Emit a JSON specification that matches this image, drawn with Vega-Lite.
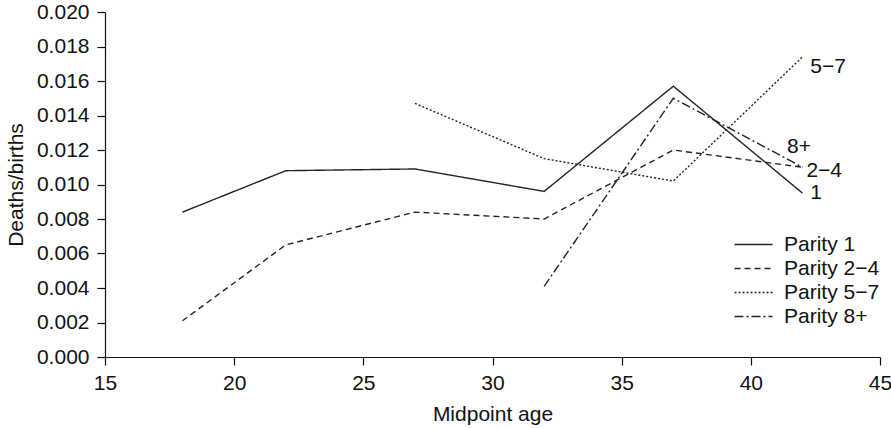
{
  "$schema": "https://vega.github.io/schema/vega-lite/v6.json",
  "width": 775,
  "height": 345,
  "autosize": {"type": "none"},
  "padding": {"left": 105, "top": 12, "right": 11, "bottom": 71},
  "background": "white",
  "config": {
    "view": {"stroke": null},
    "font": "Liberation Sans",
    "axis": {
      "grid": false,
      "domainColor": "#111",
      "domainWidth": 1.2,
      "tickColor": "#111",
      "tickWidth": 1.2,
      "tickSize": 8,
      "labelFontSize": 21,
      "labelColor": "#111",
      "labelFlush": false,
      "labelOverlap": false,
      "titleFontSize": 21,
      "titleFontWeight": "normal",
      "titleColor": "#111"
    }
  },
  "datasets": {
    "lines": [
      {"age": 18, "rate": 0.0084, "parity": "Parity 1"},
      {"age": 22, "rate": 0.0108, "parity": "Parity 1"},
      {"age": 27, "rate": 0.0109, "parity": "Parity 1"},
      {"age": 32, "rate": 0.0096, "parity": "Parity 1"},
      {"age": 37, "rate": 0.0157, "parity": "Parity 1"},
      {"age": 42, "rate": 0.0095, "parity": "Parity 1"},
      {"age": 18, "rate": 0.0021, "parity": "Parity 2−4"},
      {"age": 22, "rate": 0.0065, "parity": "Parity 2−4"},
      {"age": 27, "rate": 0.0084, "parity": "Parity 2−4"},
      {"age": 32, "rate": 0.0080, "parity": "Parity 2−4"},
      {"age": 37, "rate": 0.0120, "parity": "Parity 2−4"},
      {"age": 42, "rate": 0.0110, "parity": "Parity 2−4"},
      {"age": 27, "rate": 0.0147, "parity": "Parity 5−7"},
      {"age": 32, "rate": 0.0115, "parity": "Parity 5−7"},
      {"age": 37, "rate": 0.0102, "parity": "Parity 5−7"},
      {"age": 42, "rate": 0.0174, "parity": "Parity 5−7"},
      {"age": 32, "rate": 0.0041, "parity": "Parity 8+"},
      {"age": 37, "rate": 0.0150, "parity": "Parity 8+"},
      {"age": 42, "rate": 0.0110, "parity": "Parity 8+"}
    ],
    "labels": [
      {"age": 42.3, "rate": 0.0168, "label": "5−7"},
      {"age": 41.4, "rate": 0.0122, "label": "8+"},
      {"age": 42.15, "rate": 0.0108, "label": "2−4"},
      {"age": 42.3, "rate": 0.0095, "label": "1"}
    ]
  },
  "encoding": {
    "x": {
      "field": "age",
      "type": "quantitative",
      "title": "Midpoint age",
      "scale": {"domain": [15, 45], "nice": false},
      "axis": {"values": [15, 20, 25, 30, 35, 40, 45], "labelOverlap": false, "labelPadding": 7, "titlePadding": 10}
    },
    "y": {
      "field": "rate",
      "type": "quantitative",
      "title": "Deaths/births",
      "scale": {"domain": [0, 0.02], "nice": false},
      "axis": {
        "values": [0, 0.002, 0.004, 0.006, 0.008, 0.01, 0.012, 0.014, 0.016, 0.018, 0.02],
        "format": ".3f",
        "labelOverlap": false,
        "labelPadding": 8,
        "titlePadding": 10
      }
    }
  },
  "layer": [
    {
      "data": {"name": "lines"},
      "mark": {"type": "line", "color": "#222", "strokeWidth": 1.4},
      "encoding": {
        "strokeDash": {
          "field": "parity",
          "type": "nominal",
          "scale": {
            "domain": ["Parity 1", "Parity 2−4", "Parity 5−7", "Parity 8+"],
            "range": [[1, 0], [6, 4], [2, 2], [9, 3, 2, 3]]
          },
          "legend": {
            "orient": "none",
            "legendX": 638,
            "legendY": 222,
            "title": null,
            "symbolType": "M-2,0H2",
            "symbolSize": 361,
            "symbolStrokeWidth": 1.4,
            "symbolStrokeColor": "#222",
            "labelFontSize": 21,
            "labelColor": "#111",
            "labelOffset": 20,
            "rowPadding": 2
          }
        }
      }
    },
    {
      "data": {"name": "labels"},
      "mark": {"type": "text", "align": "left", "baseline": "middle", "fontSize": 21, "color": "#111"},
      "encoding": {
        "text": {"field": "label"}
      }
    }
  ]
}
